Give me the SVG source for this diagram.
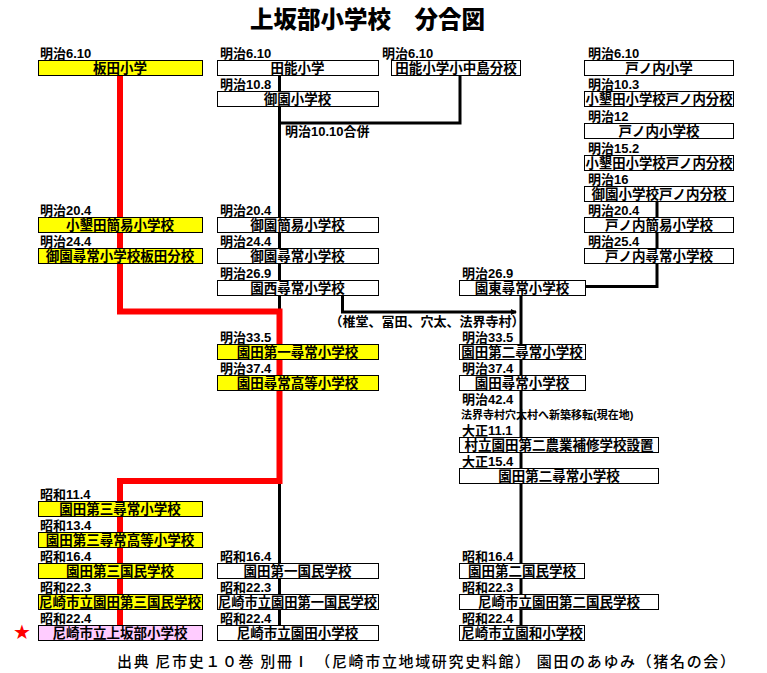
<svg xmlns="http://www.w3.org/2000/svg" width="767" height="673" viewBox="0 0 767 673">
<style>
.bx{stroke:#000;stroke-width:1}
.w{fill:#fff}.y{fill:#ff0}.p{fill:#fcf}
.bt{font-family:"Noto Sans CJK JP",sans-serif;font-weight:bold;font-size:13.5px;text-anchor:middle;fill:#000}
.lb{font-family:"Liberation Sans","Noto Sans CJK JP",sans-serif;font-weight:bold;font-size:13px;fill:#000}
.blk{stroke:#000;stroke-width:3;fill:none}
.red{stroke:#f00;stroke-width:6;fill:none}
</style>
<defs>
<marker id="ah" markerWidth="6" markerHeight="6" refX="5" refY="3" orient="auto" markerUnits="userSpaceOnUse">
<path d="M0,0 L6,3 L0,6 Z" fill="#000"/>
</marker>
</defs>
<rect width="767" height="673" fill="#fff"/>
<text x="250" y="28" style="font-family:'Noto Sans CJK JP',sans-serif;font-weight:900;font-size:23.5px">上坂部小学校　分合図</text>

<g id="connectors">
<path class="blk" d="M279.5,75 V311.5"/>
<path class="blk" d="M460,75 V123 H279.5"/>
<path class="blk" d="M279.5,481 V625"/>
<path class="blk" d="M342.5,295 V312 H516" marker-end="url(#ah)"/>
<path class="blk" d="M657,200 V286.5 H585"/>
<path class="blk" d="M521,295 V625"/>
<path class="red" d="M120,75 V311.5 H279.5 V481 H120 V625"/>
</g>

<!-- column 1 -->
<g id="n-itada"><text class="lb" x="40" y="58">明治6.10</text><rect class="bx y" x="38.5" y="60.5" width="164" height="15"/><text class="bt" x="120" y="73">板田小学</text></g>
<g id="n-owarida-kani"><text class="lb" x="40" y="215">明治20.4</text><rect class="bx y" x="38.5" y="217.5" width="164" height="15"/><text class="bt" x="120" y="230">小墾田簡易小学校</text></g>
<g id="n-misono-itada"><text class="lb" x="40" y="246">明治24.4</text><rect class="bx y" x="38.5" y="248.5" width="164" height="15"/><text class="bt" x="120" y="261">御園尋常小学校板田分校</text></g>
<g id="n-sonoda3-jinjo"><text class="lb" x="40" y="499">昭和11.4</text><rect class="bx y" x="38.5" y="501.5" width="164" height="15"/><text class="bt" x="120" y="514">園田第三尋常小学校</text></g>
<g id="n-sonoda3-koto"><text class="lb" x="40" y="530">昭和13.4</text><rect class="bx y" x="38.5" y="532.5" width="164" height="15"/><text class="bt" x="120" y="545">園田第三尋常高等小学校</text></g>
<g id="n-sonoda3-kokumin"><text class="lb" x="40" y="561">昭和16.4</text><rect class="bx y" x="38.5" y="563.5" width="164" height="15"/><text class="bt" x="120" y="576">園田第三国民学校</text></g>
<g id="n-shiritsu-sonoda3"><text class="lb" x="40" y="592">昭和22.3</text><rect class="bx y" x="38.5" y="594.5" width="164" height="15"/><text class="bt" x="120" y="607" textLength="162" lengthAdjust="spacingAndGlyphs">尼崎市立園田第三国民学校</text></g>
<g id="n-kamisakabe"><text class="lb" x="40" y="623">昭和22.4</text><rect class="bx p" x="38.5" y="625.5" width="164" height="15"/><text class="bt" x="120" y="638">尼崎市立上坂部小学校</text>
<text x="22" y="639" text-anchor="middle" style="font-family:'DejaVu Sans',sans-serif;font-size:20px;fill:#f00">★</text></g>

<!-- column 2 -->
<g id="n-tano"><text class="lb" x="220" y="58">明治6.10</text><rect class="bx w" x="217.5" y="60.5" width="161" height="15"/><text class="bt" x="297.5" y="73">田能小学</text></g>
<g id="n-misono"><text class="lb" x="220" y="89">明治10.8</text><rect class="bx w" x="217.5" y="91.5" width="161" height="15"/><text class="bt" x="297.5" y="104">御園小学校</text>
<text class="lb" x="285" y="136">明治10.10合併</text></g>
<g id="n-misono-kani"><text class="lb" x="220" y="215">明治20.4</text><rect class="bx w" x="217.5" y="217.5" width="161" height="15"/><text class="bt" x="297.5" y="230">御園簡易小学校</text></g>
<g id="n-misono-jinjo"><text class="lb" x="220" y="246">明治24.4</text><rect class="bx w" x="217.5" y="248.5" width="161" height="15"/><text class="bt" x="297.5" y="261">御園尋常小学校</text></g>
<g id="n-sonozai"><text class="lb" x="220" y="278">明治26.9</text><rect class="bx w" x="217.5" y="280.5" width="161" height="15"/><text class="bt" x="297.5" y="293">園西尋常小学校</text></g>
<g id="n-sonoda1-jinjo"><text class="lb" x="220" y="342">明治33.5</text><rect class="bx y" x="217.5" y="344.5" width="161" height="15"/><text class="bt" x="297.5" y="357">園田第一尋常小学校</text></g>
<g id="n-sonoda-koto"><text class="lb" x="220" y="373">明治37.4</text><rect class="bx y" x="217.5" y="375.5" width="161" height="15"/><text class="bt" x="297.5" y="388">園田尋常高等小学校</text></g>
<g id="n-sonoda1-kokumin"><text class="lb" x="220" y="561">昭和16.4</text><rect class="bx w" x="217.5" y="563.5" width="161" height="15"/><text class="bt" x="297.5" y="576">園田第一国民学校</text></g>
<g id="n-shiritsu-sonoda1"><text class="lb" x="220" y="592">昭和22.3</text><rect class="bx w" x="217.5" y="594.5" width="161" height="15"/><text class="bt" x="297.5" y="607" textLength="159" lengthAdjust="spacingAndGlyphs">尼崎市立園田第一国民学校</text></g>
<g id="n-shiritsu-sonoda"><text class="lb" x="220" y="623">昭和22.4</text><rect class="bx w" x="217.5" y="625.5" width="161" height="15"/><text class="bt" x="297.5" y="638">尼崎市立園田小学校</text></g>

<!-- column 3 -->
<g id="n-tano-konakajima"><text class="lb" x="382" y="58">明治6.10</text><rect class="bx w" x="391.5" y="60.5" width="129" height="15"/><text class="bt" x="456" y="73">田能小学小中島分校</text></g>

<!-- column 4 -->
<g id="n-tonouchi"><text class="lb" x="588" y="58">明治6.10</text><rect class="bx w" x="584.5" y="60.5" width="149" height="15"/><text class="bt" x="659" y="73">戸ノ内小学</text></g>
<g id="n-owarida-tonouchi1"><text class="lb" x="588" y="89">明治10.3</text><rect class="bx w" x="584.5" y="91.5" width="149" height="15"/><text class="bt" x="659" y="104" textLength="147" lengthAdjust="spacingAndGlyphs">小墾田小学校戸ノ内分校</text></g>
<g id="n-tonouchi-shogakko"><text class="lb" x="588" y="121">明治12</text><rect class="bx w" x="584.5" y="123.5" width="149" height="15"/><text class="bt" x="659" y="136">戸ノ内小学校</text></g>
<g id="n-owarida-tonouchi2"><text class="lb" x="588" y="153">明治15.2</text><rect class="bx w" x="584.5" y="155.5" width="149" height="15"/><text class="bt" x="659" y="168" textLength="147" lengthAdjust="spacingAndGlyphs">小墾田小学校戸ノ内分校</text></g>
<g id="n-misono-tonouchi"><text class="lb" x="588" y="184">明治16</text><rect class="bx w" x="584.5" y="186.5" width="149" height="15"/><text class="bt" x="659" y="199">御園小学校戸ノ内分校</text></g>
<g id="n-tonouchi-kani"><text class="lb" x="588" y="215">明治20.4</text><rect class="bx w" x="584.5" y="217.5" width="149" height="15"/><text class="bt" x="659" y="230">戸ノ内簡易小学校</text></g>
<g id="n-tonouchi-jinjo"><text class="lb" x="588" y="246">明治25.4</text><rect class="bx w" x="584.5" y="248.5" width="149" height="15"/><text class="bt" x="659" y="261">戸ノ内尋常小学校</text></g>

<!-- middle column -->
<g id="n-sonohigashi"><text class="lb" x="462" y="278">明治26.9</text><rect class="bx w" x="459.5" y="280.5" width="126" height="15"/><text class="bt" x="522" y="293">園東尋常小学校</text></g>
<g id="l-villages"><text class="lb" x="427" y="326" text-anchor="middle">（椎堂、冨田、穴太、法界寺村）</text></g>
<g id="n-sonoda2-jinjo"><text class="lb" x="462" y="342">明治33.5</text><rect class="bx w" x="459.5" y="344.5" width="126" height="15"/><text class="bt" x="522" y="357">園田第二尋常小学校</text></g>
<g id="n-sonoda-jinjo"><text class="lb" x="462" y="373">明治37.4</text><rect class="bx w" x="459.5" y="375.5" width="126" height="15"/><text class="bt" x="522" y="388">園田尋常小学校</text>
<text class="lb" x="462" y="404">明治42.4</text>
<text class="lb" x="461" y="419" style="font-size:11px">法界寺村穴太村へ新築移転(現在地)</text></g>
<g id="n-nogyo"><text class="lb" x="462" y="435">大正11.1</text><rect class="bx w" x="459.5" y="437.5" width="199" height="15"/><text class="bt" x="559" y="450">村立園田第二農業補修学校設置</text></g>
<g id="n-sonoda2-jinjo2"><text class="lb" x="462" y="466">大正15.4</text><rect class="bx w" x="459.5" y="468.5" width="199" height="15"/><text class="bt" x="559" y="481">園田第二尋常小学校</text></g>
<g id="n-sonoda2-kokumin"><text class="lb" x="462" y="561">昭和16.4</text><rect class="bx w" x="459.5" y="563.5" width="125" height="15"/><text class="bt" x="522" y="576">園田第二国民学校</text></g>
<g id="n-shiritsu-sonoda2"><text class="lb" x="462" y="592">昭和22.3</text><rect class="bx w" x="459.5" y="594.5" width="199" height="15"/><text class="bt" x="559" y="607">尼崎市立園田第二国民学校</text></g>
<g id="n-sonowa"><text class="lb" x="462" y="623">昭和22.4</text><rect class="bx w" x="459.5" y="625.5" width="125" height="15"/><text class="bt" x="522" y="638">尼崎市立園和小学校</text></g>

<text x="117" y="667" textLength="618" lengthAdjust="spacing" style="font-family:'Noto Sans CJK JP',sans-serif;font-weight:500;font-size:15px;fill:#000">出典 尼市史１０巻 別冊Ⅰ （尼崎市立地域研究史料館） 園田のあゆみ（猪名の会）</text>
</svg>
